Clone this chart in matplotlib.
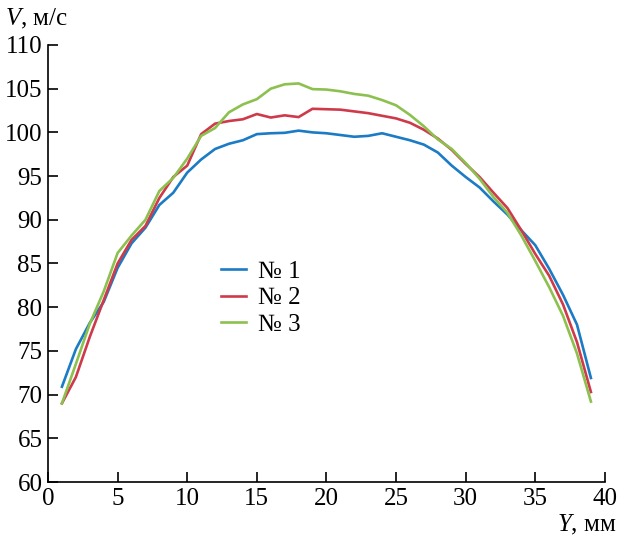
import matplotlib
matplotlib.use("Agg")
import matplotlib.pyplot as plt

plt.rcParams["font.family"] = ["Liberation Serif", "DejaVu Serif"]
plt.rcParams["mathtext.fontset"] = "custom"
plt.rcParams["mathtext.rm"] = "Liberation Serif"
plt.rcParams["mathtext.it"] = "Liberation Serif:italic"

# positions across the channel, mm
y_mm = list(range(1, 40))

# velocity profiles, m/s
v1 = [70.9, 75.2, 78.2, 80.6, 84.5, 87.3, 89.1, 91.7, 93.1, 95.4,
      96.9, 98.1, 98.7, 99.1, 99.8, 99.9, 99.95, 100.2, 100.0, 99.9,
      99.7, 99.5, 99.6, 99.9, 99.5, 99.1, 98.6, 97.7, 96.2, 94.9,
      93.7, 92.1, 90.6, 88.8, 87.1, 84.4, 81.4, 78.0, 71.9]
v2 = [69.0, 72.0, 76.6, 80.8, 85.0, 87.7, 89.3, 92.5, 94.9, 96.2,
      99.8, 101.0, 101.3, 101.5, 102.1, 101.7, 101.95, 101.75, 102.7, 102.65,
      102.6, 102.4, 102.2, 101.9, 101.6, 101.1, 100.3, 99.3, 98.0, 96.4,
      94.9, 93.1, 91.35, 88.8, 86.1, 83.6, 80.3, 76.0, 70.3]
v3 = [69.0, 73.5, 78.1, 81.8, 86.2, 88.2, 90.0, 93.3, 94.8, 97.0,
      99.6, 100.5, 102.3, 103.2, 103.8, 105.0, 105.5, 105.6, 104.95, 104.9,
      104.7, 104.4, 104.2, 103.7, 103.1, 102.0, 100.7, 99.2, 98.1, 96.5,
      94.7, 92.6, 90.8, 88.2, 85.3, 82.3, 79.0, 74.7, 69.2]

labels = ["№ 1", "№ 2", "№ 3"]
colors = ["#1b7bc4", "#cf3a4b", "#8cc04f"]

fig = plt.figure(figsize=(6.18, 5.4), dpi=100)
ax = fig.add_axes([0.0777, 0.1074, 0.901, 0.8093])

for v, lab, c in zip([v1, v2, v3], labels, colors):
    ax.plot(y_mm, v, color=c, lw=1.9, label=lab, solid_joinstyle="round")

ax.set_xlim(0, 40)
ax.set_ylim(60, 110)
ax.set_xticks(range(0, 41, 5))
ax.set_yticks(range(60, 111, 5))
ax.spines["top"].set_visible(False)
ax.spines["right"].set_visible(False)
for s in ["left", "bottom"]:
    ax.spines[s].set_linewidth(1.2)
ax.tick_params(direction="in", length=7, width=1.2, labelsize=18, pad=4)

fig.text(0.008, 0.965, r"$V$, м/с", fontsize=18, ha="left", va="center")
fig.text(0.998, 0.027, r"$Y$, мм", fontsize=18, ha="right", va="center")

ax.legend(loc="upper left", bbox_to_anchor=(0.289, 0.535), frameon=False,
          fontsize=18, handlelength=1.0, handletextpad=0.45, labelspacing=0.15,
          borderpad=0)

fig.savefig("out.png", dpi=100)
